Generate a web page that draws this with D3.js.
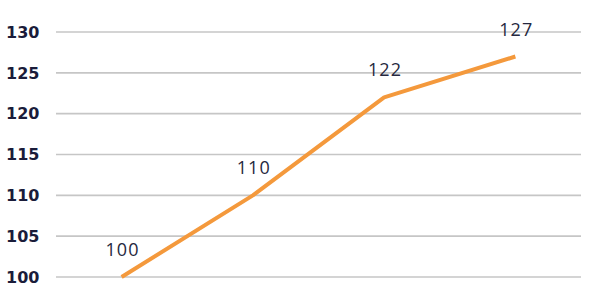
<!DOCTYPE html>
<meta charset="utf-8">
<head>
<style>
  body { margin: 0; background: #fff; }
  .tick-label { font-family: "DejaVu Sans", sans-serif; font-weight: bold; font-size: 16px; fill: #1a1c3a; }
  .value-label { font-family: "Open Sans", sans-serif; font-weight: 400; font-size: 18px; fill: #262840; letter-spacing: 1.2px; }
</style>
</head>
<script src="https://d3js.org/d3.v7.min.js"></script>
<body>
<div id="my_dataviz"></div>
<script>
// data
var categories = ["P1", "P2", "P3", "P4"];
var values = [100, 110, 122, 127];
var yTicks = [100, 105, 110, 115, 120, 125, 130];

var width = 591, height = 289;

var svg = d3.select("#my_dataviz")
  .append("svg")
    .attr("width", width)
    .attr("height", height);

var x = d3.scaleBand()
  .domain(categories)
  .range([56, 581]);

var y = d3.scaleLinear()
  .domain([100, 130])
  .range([277, 32]);

// gridlines
svg.append("g")
  .selectAll("line")
  .data(yTicks)
  .enter()
  .append("line")
    .attr("x1", 56)
    .attr("x2", 581)
    .attr("y1", function(d) { return y(d); })
    .attr("y2", function(d) { return y(d); })
    .attr("stroke", "#c6c6c6")
    .attr("stroke-width", 1.6);

// y tick labels
svg.append("g")
  .selectAll("text")
  .data(yTicks)
  .enter()
  .append("text")
    .attr("class", "tick-label")
    .attr("x", 6)
    .attr("y", function(d) { return y(d); })
    .attr("dy", "0.36em")
    .text(function(d) { return d; });

// line
var line = d3.line()
  .x(function(d, i) { return x(categories[i]) + x.bandwidth() / 2; })
  .y(function(d) { return y(d); });

svg.append("path")
  .datum(values)
  .attr("fill", "none")
  .attr("stroke", "#f4993c")
  .attr("stroke-width", 4)
  .attr("stroke-linejoin", "round")
  .attr("d", line);

// value labels
svg.append("g")
  .selectAll("text")
  .data(values)
  .enter()
  .append("text")
    .attr("class", "value-label")
    .attr("text-anchor", "middle")
    .attr("x", function(d, i) { return x(categories[i]) + x.bandwidth() / 2 + 1; })
    .attr("y", function(d) { return y(d) - 21; })
    .text(function(d) { return d; });
</script>
</body>
